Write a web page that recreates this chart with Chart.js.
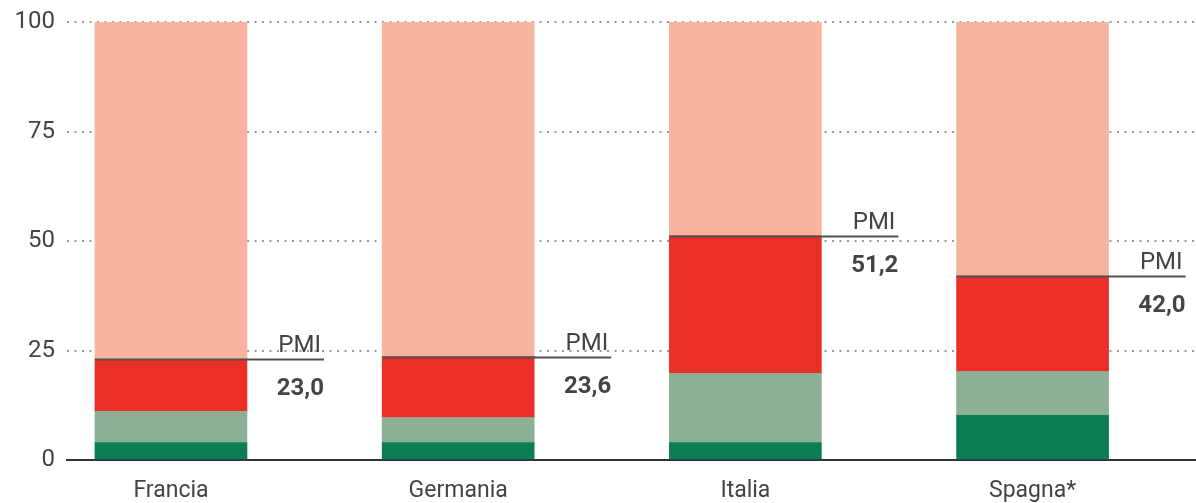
<!DOCTYPE html>
<html>
<head>
<meta charset="utf-8">
<script src="https://cdn.jsdelivr.net/npm/chart.js@4/dist/chart.umd.min.js"></script>
<style>
  html,body{margin:0;padding:0;background:#fff;}
  #wrap{width:1196px;height:503px;position:relative;}
</style>
</head>
<body>
<div id="wrap"><canvas id="chart"></canvas></div>
<script>
const categories = ['Francia','Germania','Italia','Spagna*'];
const verdeScuro = [4.0, 4.0, 4.0, 10.2];
const verdeChiaro = [7.1, 5.7, 15.8, 10.0];
const rosso = [11.9, 13.9, 31.4, 21.8];
const rosa = [77.0, 76.4, 48.8, 58.0];
const pmi = [23.0, 23.6, 51.2, 42.0];
const yTicks = [0, 25, 50, 75, 100];

const TXT = '#444';
const FONT = 'Roboto';
const pts = (arr) => arr.map((v,i)=>({x:i, y:v}));

// linea PMI + etichette, posizioni prese dalle barre e dalla scala y
const pmiPlugin = {
  id:'pmi',
  afterDatasetsDraw(chart){
    const {ctx, scales:{y}} = chart;
    const bars = chart.getDatasetMeta(0).data;
    ctx.save();
    bars.forEach((bar, i) => {
      const w = bar.width;
      const x0 = bar.x - w/2, x1 = bar.x + w/2 + 77;
      const py = Math.round(y.getPixelForValue(pmi[i])) + 0.5;
      ctx.strokeStyle = '#505050'; ctx.lineWidth = 2;
      ctx.beginPath(); ctx.moveTo(x0, py); ctx.lineTo(x1, py); ctx.stroke();
      ctx.fillStyle = TXT; ctx.textAlign = 'right'; ctx.textBaseline = 'alphabetic';
      ctx.font = `24px ${FONT}`;
      ctx.fillText('PMI', x1 - 3, py - 8);
      ctx.font = `bold 24px ${FONT}`;
      ctx.fillText(pmi[i].toFixed(1).replace('.', ','), x1, py + 35);
    });
    ctx.restore();
  }
};

const ds = (label, data, color) => ({label, data:pts(data), backgroundColor:color, borderWidth:0, barThickness:152, stack:'s'});

new Chart(document.getElementById('chart'), {
  type:'bar',
  data:{datasets:[
    ds('verde scuro', verdeScuro, '#0b7d52'),
    ds('verde chiaro', verdeChiaro, '#8caf96'),
    ds('rosso', rosso, '#ea2e28'),
    ds('rosa', rosa, '#f7b5a0')
  ]},
  options:{
    responsive:true, maintainAspectRatio:false, animation:false,
    layout:{padding:{top:22, left:0, right:0, bottom:0}},
    plugins:{legend:{display:false}, tooltip:{enabled:false}},
    scales:{
      x:{
        type:'linear', stacked:true, min:-0.362, max:3.569, offset:false,
        afterFit:(s)=>{ s.height = 43; },
        grid:{display:false, drawTicks:false, offset:false},
        border:{display:true, color:'#333', width:2},
        afterBuildTicks:(s)=>{ s.ticks = categories.map((c,i)=>({value:i})); },
        ticks:{includeBounds:false, padding:17, color:TXT, font:{family:FONT, size:23},
          callback:(v)=>categories[v] ?? ''}
      },
      y:{
        stacked:true, min:0, max:100, z:1,
        afterFit:(s)=>{ s.width = 67; },
        afterBuildTicks:(s)=>{ s.ticks = yTicks.map(v=>({value:v})); },
        grid:{drawTicks:false, lineWidth:2, color:(c)=>c.tick && c.tick.value===0 ? 'rgba(0,0,0,0)' : '#9a9a9a'},
        border:{display:false, dash:[2,5.5]},
        ticks:{padding:12, color:TXT, font:{family:FONT, size:24, lineHeight:0.5}}
      }
    }
  },
  plugins:[pmiPlugin]
});
</script>
</body>
</html>
